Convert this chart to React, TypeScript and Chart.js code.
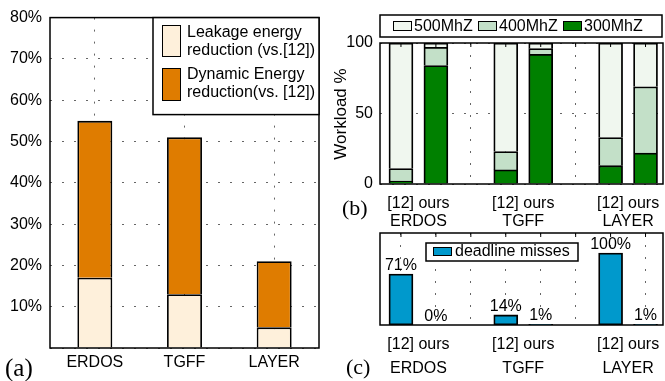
import { useEffect, useRef } from 'react';
import { Chart, registerables } from 'chart.js';

Chart.register(...registerables);

// ---------- data ----------
// panel (a)
const benchmarks = ['ERDOS', 'TGFF', 'LAYER'];
const leakageReduction = [17, 13, 5];
const dynamicReduction = [38, 38, 16];
const legendA = [
  ['Leakage energy', 'reduction (vs.[12])'],
  ['Dynamic Energy', 'reduction(vs. [12])'],
];

// panel (b)
const barPositions = [0, 1, 3, 4, 6, 7];
const pairLabel = '[12] ours';
const freqLabels = ['500MhZ', '400MhZ', '300MhZ'];
const share300 = [2, 84, 10, 92, 13, 22];
const share400 = [9, 13, 13, 4, 20, 47];
const share500 = [89, 3, 77, 4, 67, 31];
const workloadTicks = [0, 50, 100];

// panel (c)
const deadlineMisses = [71, 0, 14, 1, 100, 1];
const missesLabel = 'deadline misses';

// ---------- styles ----------
const FONT = "'Liberation Sans', Arial, sans-serif";
const SERIF = "'Liberation Serif', 'Times New Roman', serif";
const CREAM = '#FEF0DB';
const ORANGE = '#DF7C00';
const C500 = '#F0F7EF';
const C400 = '#C3E0C8';
const C300 = '#008000';
const BLUE = '#0099CC';
const GRID = '#666666';
const DOT = [2, 10];
const BAR_BORDER = 1.8;

const groupCenters = [0, 2, 4].map((i) => (barPositions[i] + barPositions[i + 1]) / 2);
const xTickValues = [0, 0.5, 1, 2, 3, 3.5, 4, 5, 6, 6.5, 7];

const framePlugin = {
  id: 'frame',
  afterDatasetsDraw(chart: any) {
    const { ctx, chartArea: a } = chart;
    ctx.save();
    ctx.strokeStyle = '#000';
    ctx.lineWidth = 1.5;
    ctx.strokeRect(a.left, a.top, a.right - a.left, a.bottom - a.top);
    ctx.restore();
  },
};

const topTicksPlugin = {
  id: 'topTicks',
  afterDatasetsDraw(chart: any) {
    const { ctx, chartArea: a, scales } = chart;
    ctx.save();
    ctx.strokeStyle = '#000';
    ctx.lineWidth = 1;
    for (let v = 0; v <= 7; v++) {
      const x = scales.x.getPixelForValue(v);
      ctx.beginPath();
      ctx.moveTo(x, a.top);
      ctx.lineTo(x, a.top + 4);
      ctx.stroke();
    }
    ctx.restore();
  },
};

function swatch(ctx: any, x: number, y: number, w: number, h: number, fill: string) {
  ctx.fillStyle = fill;
  ctx.fillRect(x, y, w, h);
  ctx.strokeStyle = '#000';
  ctx.lineWidth = 1;
  ctx.strokeRect(x + 0.5, y + 0.5, w - 1, h - 1);
}

function xLabel(v: number) {
  const g = groupCenters.findIndex((c) => Math.abs(c - v) < 1e-6);
  return g >= 0 ? [pairLabel, benchmarks[g]] : '';
}

export default function App() {
  const refA = useRef<HTMLCanvasElement>(null);
  const refB = useRef<HTMLCanvasElement>(null);
  const refC = useRef<HTMLCanvasElement>(null);

  useEffect(() => {
    document.body.style.margin = '0';
    const tickFont = { family: FONT, size: 16 };

    // ---------- (a) ----------
    const legendAPlugin = {
      id: 'legendA',
      afterDraw(chart: any) {
        const { ctx, chartArea: a } = chart;
        ctx.save();
        const bx = 153, by = a.top, bw = a.right - 153, bh = 97;
        ctx.fillStyle = '#fff';
        ctx.fillRect(bx, by, bw, bh);
        ctx.strokeStyle = '#000';
        ctx.lineWidth = 1.5;
        ctx.strokeRect(bx, by, bw, bh);
        swatch(ctx, 162, 25, 19, 32, CREAM);
        swatch(ctx, 162, 68, 19, 33, ORANGE);
        ctx.fillStyle = '#000';
        ctx.font = `16px ${FONT}`;
        ctx.textBaseline = 'middle';
        ctx.textAlign = 'left';
        ctx.fillText(legendA[0][0], 187, 33);
        ctx.fillText(legendA[0][1], 187, 51);
        ctx.fillText(legendA[1][0], 187, 75);
        ctx.fillText(legendA[1][1], 187, 93);
        ctx.font = `25px ${SERIF}`;
        ctx.fillText('(a)', 5, 369);
        ctx.restore();
      },
    };

    const chartA = new Chart(refA.current!, {
      type: 'bar',
      data: {
        labels: benchmarks,
        datasets: [
          { label: legendA[0].join(' '), data: leakageReduction, backgroundColor: CREAM, borderColor: '#000', borderWidth: BAR_BORDER, borderSkipped: 'bottom' },
          { label: legendA[1].join(' '), data: dynamicReduction, backgroundColor: ORANGE, borderColor: '#000', borderWidth: BAR_BORDER, borderSkipped: 'bottom' },
        ],
      },
      options: {
        animation: false,
        responsive: false,
        devicePixelRatio: 1,
        layout: { padding: { top: 14, right: 11, left: 0, bottom: 0 } },
        plugins: { legend: { display: false }, tooltip: { enabled: false } },
        datasets: { bar: { barPercentage: 0.39, categoryPercentage: 1 } },
        scales: {
          x: {
            stacked: true,
            afterFit: (s: any) => { s.height = 33; },
            grid: { offset: false, drawTicks: false, color: GRID },
            border: { display: false, dash: DOT },
            ticks: { padding: 5, font: tickFont, color: '#000' },
          },
          y: {
            stacked: true,
            min: 0,
            max: 80,
            afterFit: (s: any) => { s.width = 50; },
            grid: { drawTicks: false, color: GRID },
            border: { display: false, dash: DOT },
            ticks: { stepSize: 10, padding: 8, font: tickFont, color: '#000', callback: (v: any) => (v === 0 ? '' : v + '%') },
          },
        },
      } as any,
      plugins: [framePlugin, legendAPlugin],
    });

    // ---------- (b) ----------
    const legendBPlugin = {
      id: 'legendB',
      afterDraw(chart: any) {
        const { ctx, chartArea: a } = chart;
        ctx.save();
        ctx.fillStyle = '#fff';
        ctx.fillRect(a.left, 15, a.right - a.left - 1, 22);
        ctx.strokeStyle = '#000';
        ctx.lineWidth = 1.5;
        ctx.strokeRect(a.left, 15, a.right - a.left - 1, 22);
        const cols = [C500, C400, C300];
        const sx = [63, 148, 233];
        ctx.font = `16px ${FONT}`;
        ctx.textBaseline = 'middle';
        ctx.textAlign = 'left';
        freqLabels.forEach((t, i) => {
          swatch(ctx, sx[i], 21, 19, 10, cols[i]);
          ctx.fillStyle = '#000';
          ctx.fillText(t, sx[i] + 21, 26.5);
        });
        ctx.save();
        ctx.translate(11.5, 114);
        ctx.rotate(-Math.PI / 2);
        ctx.textAlign = 'center';
        ctx.font = `17px ${FONT}`;
        ctx.fillText('Workload %', 0, 0);
        ctx.restore();
        ctx.font = `22px ${SERIF}`;
        ctx.fillText('(b)', 12, 209);
        ctx.restore();
      },
    };

    const xScale = (height: number, padding: number, lineHeight: number) => ({
      type: 'linear',
      min: -0.6,
      max: 7.5,
      stacked: true,
      offset: false,
      afterBuildTicks: (s: any) => { s.ticks = xTickValues.map((v) => ({ value: v })); },
      afterFit: (s: any) => { s.height = height; },
      grid: {
        offset: false,
        drawTicks: false,
        color: (c: any) => (c.tick && Number.isInteger(c.tick.value) ? GRID : 'rgba(0,0,0,0)'),
      },
      border: { display: false, dash: DOT },
      ticks: {
        autoSkip: false,
        maxRotation: 0,
        padding,
        font: { family: FONT, size: 16, lineHeight: lineHeight + 'px' },
        color: '#000',
        callback: (v: any) => xLabel(Number(v)),
      },
    });

    const pts = (arr: number[]) => arr.map((y, i) => ({ x: barPositions[i], y }));

    const chartB = new Chart(refB.current!, {
      type: 'bar',
      data: {
        datasets: [
          { label: freqLabels[2], data: pts(share300), backgroundColor: C300 },
          { label: freqLabels[1], data: pts(share400), backgroundColor: C400 },
          { label: freqLabels[0], data: pts(share500), backgroundColor: C500 },
        ],
      },
      options: {
        animation: false,
        responsive: false,
        devicePixelRatio: 1,
        layout: { padding: { top: 43, right: 2, left: 0, bottom: 0 } },
        plugins: { legend: { display: false }, tooltip: { enabled: false } },
        datasets: { bar: { barThickness: 24, borderColor: '#000', borderWidth: BAR_BORDER, borderSkipped: 'bottom' } },
        scales: {
          x: xScale(46, 11, 18),
          y: {
            stacked: true,
            min: 0,
            max: 100,
            afterBuildTicks: (s: any) => { s.ticks = workloadTicks.map((v) => ({ value: v })); },
            afterFit: (s: any) => { s.width = 50; },
            grid: { drawTicks: false, color: GRID },
            border: { display: false, dash: DOT },
            ticks: { padding: 7, font: tickFont, color: '#000' },
          },
        },
      } as any,
      plugins: [framePlugin, topTicksPlugin, legendBPlugin],
    });

    // ---------- (c) ----------
    const legendCPlugin = {
      id: 'legendC',
      afterDatasetsDraw(chart: any) {
        const { ctx } = chart;
        const meta = chart.getDatasetMeta(0);
        ctx.save();
        ctx.fillStyle = '#000';
        ctx.font = `16px ${FONT}`;
        ctx.textAlign = 'center';
        ctx.textBaseline = 'middle';
        meta.data.forEach((bar: any, i: number) => {
          ctx.fillText(deadlineMisses[i] + '%', bar.x, bar.y - 8.5);
        });
        ctx.restore();
      },
      afterDraw(chart: any) {
        const { ctx } = chart;
        ctx.save();
        ctx.fillStyle = '#fff';
        ctx.fillRect(96, 23, 152, 18);
        ctx.strokeStyle = '#000';
        ctx.lineWidth = 1.5;
        ctx.strokeRect(96, 23, 152, 18);
        swatch(ctx, 103, 27, 19, 9, BLUE);
        ctx.fillStyle = '#000';
        ctx.font = `16px ${FONT}`;
        ctx.textBaseline = 'middle';
        ctx.textAlign = 'left';
        ctx.fillText(missesLabel, 125, 32);
        ctx.font = `22px ${SERIF}`;
        ctx.fillText('(c)', 16, 148);
        ctx.restore();
      },
    };

    const chartC = new Chart(refC.current!, {
      type: 'bar',
      data: {
        datasets: [
          { label: missesLabel, data: pts(deadlineMisses), backgroundColor: BLUE, borderColor: '#000', borderWidth: BAR_BORDER, borderSkipped: false },
        ],
      },
      options: {
        animation: false,
        responsive: false,
        devicePixelRatio: 1,
        layout: { padding: { top: 13, right: 2, left: 0, bottom: 0 } },
        plugins: { legend: { display: false }, tooltip: { enabled: false } },
        datasets: { bar: { barThickness: 24 } },
        scales: {
          x: xScale(56, 8, 24),
          y: {
            min: 0,
            max: 128,
            afterFit: (s: any) => { s.width = 50; },
            grid: { display: false },
            border: { display: false },
            ticks: { display: false },
          },
        },
      } as any,
      plugins: [framePlugin, topTicksPlugin, legendCPlugin],
    });

    return () => {
      chartA.destroy();
      chartB.destroy();
      chartC.destroy();
    };
  }, []);

  return (
    <div style={{ position: 'relative', width: 665, height: 381, background: '#fff', overflow: 'hidden' }}>
      <canvas ref={refA} width={330} height={381} style={{ position: 'absolute', left: 0, top: 0 }} />
      <canvas ref={refB} width={335} height={230} style={{ position: 'absolute', left: 330, top: 0 }} />
      <canvas ref={refC} width={335} height={161} style={{ position: 'absolute', left: 330, top: 220 }} />
    </div>
  );
}
